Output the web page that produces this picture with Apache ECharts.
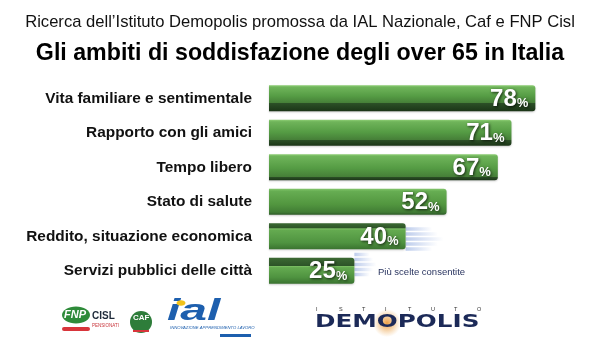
<!DOCTYPE html>
<html><head><meta charset="utf-8">
<script src="https://cdn.jsdelivr.net/npm/echarts@6/dist/echarts.min.js"></script>
<style>html,body{margin:0;padding:0;background:#fff}#c{width:600px;height:350px}</style>
</head><body><div id="c"></div>
<script>
var categories = ["Vita familiare e sentimentale","Rapporto con gli amici","Tempo libero","Stato di salute","Reddito, situazione economica","Servizi pubblici delle città"];
var values = [78, 71, 67, 52, 40, 25];
var FONT = '"Liberation Sans", Arial, Helvetica, sans-serif';

var chart = echarts.init(document.getElementById('c'), null, {renderer:'canvas'});
var G = echarts.graphic;
function barGradient(i, n){
  var t = (i - (n - 1) * 0.55) / n;
  var stops;
  if (t < -0.05) {
    var d = Math.max(0.7, 0.95 + t * 0.55);
    stops = [
      {offset:0, color:'#8fcf76'},{offset:0.08, color:'#6fb45a'},
      {offset:d*0.6, color:'#559c44'},{offset:d-0.02, color:'#467f38'},
      {offset:d, color:'#2b4f26'},{offset:1, color:'#1b3517'}];
  } else if (t > 0.05) {
    var u = Math.min(0.32, t * 1.0);
    stops = [
      {offset:0, color:'#3c6a34'},{offset:u-0.02, color:'#2d5428'},
      {offset:u, color:'#7fc267'},{offset:u+0.06, color:'#64aa50'},
      {offset:0.75, color:'#4f9340'},{offset:1, color:'#3a7330'}];
  } else {
    stops = [
      {offset:0, color:'#84c66c'},{offset:0.1, color:'#66ad52'},
      {offset:0.6, color:'#52963f'},{offset:0.9, color:'#417d35'},{offset:1, color:'#2e5a28'}];
  }
  return new G.LinearGradient(0,0,0,1,stops);
}
var seriesData = values.map(function(v, i){
  return {value:v, itemStyle:{color:barGradient(i, values.length)}};
});
var txtShadow = {textShadowColor:'rgba(0,0,0,0.75)', textShadowBlur:3, textShadowOffsetX:1, textShadowOffsetY:1};
chart.setOption({
  animation:false,
  backgroundColor:'#ffffff',
  title:[
    {text:"Ricerca dell\u2019Istituto Demopolis promossa da IAL Nazionale, Caf e FNP Cisl", left:'center', top:9,
     textStyle:{fontFamily:FONT, fontSize:16.6, fontWeight:'normal', color:'#111'}},
    {text:"Gli ambiti di soddisfazione degli over 65 in Italia", left:'center', top:37,
     textStyle:{fontFamily:FONT, fontSize:23.2, fontWeight:'bold', color:'#000'}}
  ],
  grid:{left:269, top:81, right:10, height:207, containLabel:false},
  xAxis:{type:'value', min:0, max:94, show:false},
  yAxis:{type:'category', data:categories, inverse:true,
    axisLine:{show:false}, axisTick:{show:false}, splitLine:{show:false},
    axisLabel:{margin:17, fontFamily:FONT, fontSize:15.4, fontWeight:'bold', color:'#111'}},
  series:[{
    type:'bar', data:seriesData, barWidth:26,
    itemStyle:{borderRadius:[0,3,3,0], shadowColor:'rgba(0,0,0,0.2)', shadowBlur:2, shadowOffsetY:1},
    label:{show:true, position:'insideRight', offset:[-2,1],
      formatter:function(p){return '{n|'+p.value+'}{p|%}';},
      rich:{
        n:Object.assign({fontFamily:FONT, fontSize:24, fontWeight:'bold', color:'#fff', verticalAlign:'bottom'}, txtShadow),
        p:Object.assign({fontFamily:FONT, fontSize:13, fontWeight:'bold', color:'#fff', verticalAlign:'bottom', padding:[0,0,1,0]}, txtShadow)
      }}
  }]
});

// light-blue motion streaks behind the two shortest bars, placed through the axes
var streaks = [];
[4,5].forEach(function(i){
  var p = chart.convertToPixel({gridIndex:0}, [values[i], i]);
  var len = i === 4 ? 38 : 22;
  var base = i === 4 ? -9 : -18;
  [0,5,10,15,20].forEach(function(dy, k){
    streaks.push({type:'rect', z:-1, shape:{x:p[0], y:p[1]+base+dy, width:len*(1-Math.abs(k-2)*0.15), height:3.5},
      style:{fill:new G.LinearGradient(0,0,1,0,[{offset:0,color:'rgba(160,182,228,0.7)'},{offset:1,color:'rgba(160,182,228,0)'}])}});
  });
});

var logos = [
  {type:'text', left:378, top:267, style:{text:'Più scelte consentite', font:'9.5px "Liberation Sans Narrow", "Liberation Sans", Arial', fill:'#2a3560'}},
  // FNP CISL
  {type:'ellipse', shape:{cx:76, cy:315, rx:14, ry:8.5}, style:{fill:'#2e8b3a'}},
  {type:'text', left:64, top:309, style:{text:'FNP', font:'italic bold 11px "Liberation Sans", Arial', fill:'#fff'}},
  {type:'text', left:92, top:311, style:{text:'CISL', font:'bold 10px "Liberation Sans", Arial', fill:'#1e2a3a'}},
  {type:'text', left:92, top:323, style:{text:'PENSIONATI', font:'4.5px "Liberation Sans", Arial', fill:'#c8333a'}},
  {type:'rect', shape:{x:62, y:327, width:28, height:4, r:2}, style:{fill:'#d8353b'}},
  // CAF
  {type:'circle', shape:{cx:141, cy:322, r:11}, style:{fill:'#2e7d3a'}},
  {type:'text', left:133, top:314, style:{text:'CAF', font:'bold 8px "Liberation Sans", Arial', fill:'#fff'}},
  {type:'rect', shape:{x:133, y:330, width:16, height:2}, style:{fill:'#d8353b'}},
  // ial
  {type:'text', x:167, y:297, scaleX:1.6, style:{text:'ial', font:'italic bold 30px "Liberation Sans", Arial', fill:'#1d5fae', verticalAlign:'top'}},
  {type:'ellipse', shape:{cx:181, cy:303, rx:4.5, ry:2.8}, style:{fill:'#f2c21b'}},
  {type:'text', left:170, top:326, style:{text:'INNOVAZIONE APPRENDIMENTO LAVORO', font:'italic 4.2px "Liberation Sans", Arial', fill:'#1d5fae'}},
  {type:'rect', shape:{x:220, y:334, width:31, height:3}, style:{fill:'#1d5fae'}},
  // DEMOPOLIS
  {type:'circle', shape:{cx:387, cy:323, r:14}, style:{fill:new G.RadialGradient(0.5,0.5,0.5,[{offset:0,color:'rgba(235,150,50,0.9)'},{offset:0.5,color:'rgba(235,165,80,0.5)'},{offset:1,color:'rgba(240,180,100,0)'}])}},
  {type:'text', x:315, y:314, scaleX:1.45, style:{text:'DEMOPOLIS', font:'bold 17px "DejaVu Sans", "Liberation Sans", Arial', fill:'#1c2a58', verticalAlign:'top'}}
];
'ISTITUTO'.split('').forEach(function(ch, k){
  logos.push({type:'text', x:316 + k*23, y:306, style:{text:ch, font:'5.5px "Liberation Sans", Arial', fill:'#333', verticalAlign:'top'}});
});
chart.setOption({graphic: streaks.concat(logos)});
</script></body></html>
